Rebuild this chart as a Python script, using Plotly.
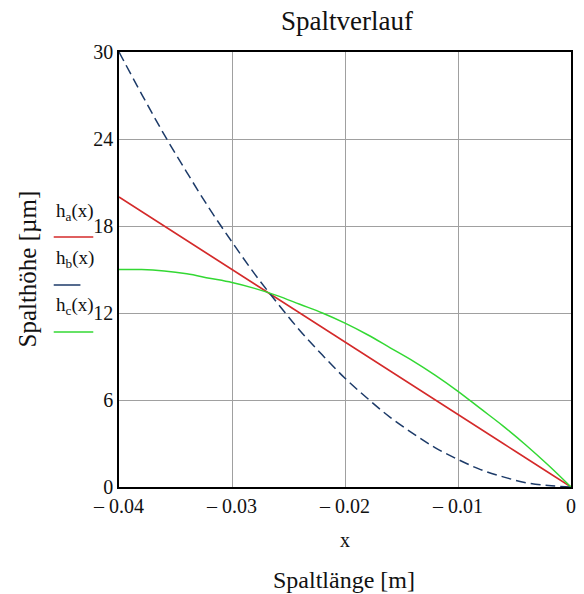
import plotly.graph_objects as go

x_vals = [-0.04, -0.038, -0.036, -0.034, -0.032, -0.03, -0.028, -0.026, -0.024, -0.022, -0.02,
          -0.018, -0.016, -0.014, -0.012, -0.01, -0.008, -0.006, -0.004, -0.002, 0.0]
h_a = [20.0, 19.0, 18.0, 17.0, 16.0, 15.0, 14.0, 13.0, 12.0, 11.0, 10.0,
       9.0, 8.0, 7.0, 6.0, 5.0, 4.0, 3.0, 2.0, 1.0, 0.0]
h_b = [30.0, 27.1, 24.3, 21.7, 19.2, 16.9, 14.7, 12.7, 10.8, 9.1, 7.5,
       6.1, 4.8, 3.7, 2.7, 1.9, 1.2, 0.7, 0.3, 0.1, 0.0]
h_c = [15.0, 15.0, 14.9, 14.7, 14.4, 14.1, 13.7, 13.2, 12.6, 12.0, 11.3,
       10.5, 9.6, 8.7, 7.7, 6.6, 5.4, 4.2, 2.9, 1.5, 0.0]

x_tickvals = [-0.04, -0.03, -0.02, -0.01, 0]
x_ticktext = ["\u2013 0.04", "\u2013 0.03", "\u2013 0.02", "\u2013 0.01", "0"]
y_tickvals = [0, 6, 12, 18, 24, 30]
y_ticktext = ["0", "6", "12", "18", "24", "30"]

series_names = ["h<sub>a</sub>(x)", "h<sub>b</sub>(x)", "h<sub>c</sub>(x)"]
series_colors = ["#d42a2a", "#1c3a68", "#33d833"]
series_dash = ["solid", "10px,5px", "solid"]

FONT = "Liberation Serif"
OFF = 8  # page body margin
W, H = 584 - OFF, 594 - OFF
# plot box in screenshot pixels
L, R, T, B = 119, 576, 52, 487
PW, PH = R - L, B - T


def px(xs):
    return (xs - L) / PW


def py(ys):
    return (B - ys) / PH


fig = go.Figure()
for ys, name, col, dash in zip([h_a, h_b, h_c], series_names, series_colors, series_dash):
    fig.add_trace(go.Scatter(x=x_vals, y=ys, mode="lines", name=name,
                             line=dict(color=col, width=1.5, dash=dash, shape="spline"),
                             showlegend=False))

fig.update_layout(
    width=W, height=H,
    margin=dict(l=L - OFF, r=584 - R, t=T - OFF, b=594 - B, pad=0),
    paper_bgcolor="white", plot_bgcolor="white",
    font=dict(family=FONT, color="#111111", size=20),
    title=dict(text="Spaltverlauf", x=(347 - OFF) / W, xanchor="center",
               y=1 - (21 - OFF) / H, yanchor="middle",
               font=dict(family=FONT, size=27, color="#111111")),
    xaxis=dict(range=[-0.04, 0], tickvals=x_tickvals, ticktext=x_ticktext,
               showgrid=True, gridcolor="#a0a0a0", gridwidth=1,
               showline=True, linecolor="black", linewidth=1.5, mirror=True,
               zeroline=False, ticks="", tickfont=dict(family=FONT, size=20)),
    yaxis=dict(range=[0, 30], tickvals=y_tickvals, ticktext=y_ticktext,
               showgrid=True, gridcolor="#a0a0a0", gridwidth=1,
               showline=True, linecolor="black", linewidth=1.5, mirror=True,
               zeroline=False, ticks="", tickfont=dict(family=FONT, size=20)),
)

# axis labels
fig.add_annotation(text="x", xref="paper", yref="paper", x=px(347), y=py(540),
                   showarrow=False, font=dict(family=FONT, size=20), xanchor="center", yanchor="middle")
fig.add_annotation(text="Spaltlänge [m]", xref="paper", yref="paper", x=px(346), y=py(580),
                   showarrow=False, font=dict(family=FONT, size=24), xanchor="center", yanchor="middle")
fig.add_annotation(text="Spalthöhe [µm]", xref="paper", yref="paper", x=px(26), y=0.5,
                   textangle=-90, showarrow=False, font=dict(family=FONT, size=25),
                   xanchor="center", yanchor="middle")

# legend built from annotations and sample lines
text_py = [212, 259, 306]
line_py = [237, 285, 332]
line_x1 = [93, 80, 93]
for name, col, tpy, lpy, lx1 in zip(series_names, series_colors, text_py, line_py, line_x1):
    fig.add_annotation(text=name, xref="paper", yref="paper", x=px(53), y=py(tpy),
                       showarrow=False, font=dict(family=FONT, size=19), xanchor="left", yanchor="middle")
    fig.add_shape(type="line", xref="paper", yref="paper",
                  x0=px(53), x1=px(lx1), y0=py(lpy), y1=py(lpy),
                  line=dict(color=col, width=1.5))

fig.write_html("out.html")
